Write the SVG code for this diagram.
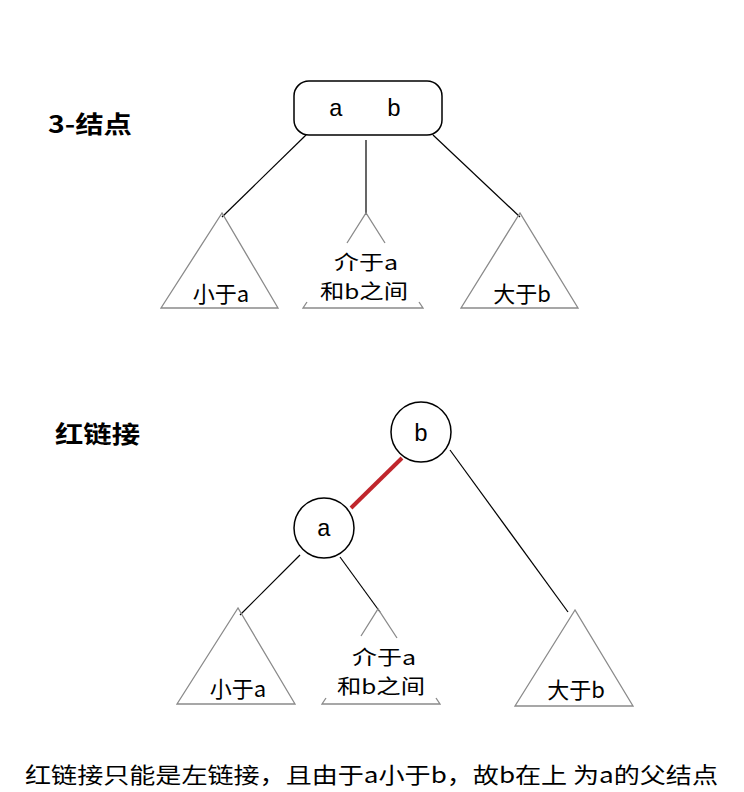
<svg xmlns="http://www.w3.org/2000/svg" width="744" height="792" viewBox="0 0 744 792">
<style>
.edge{stroke:#000;stroke-width:1.2;fill:none}
.red{stroke:#c0262c;stroke-width:4;fill:none}
.tri{stroke:#8a8a8a;stroke-width:1.3;fill:none}
.node{stroke:#000;stroke-width:1.5;fill:#fff}
.t{font-family:"Liberation Mono","Noto Sans CJK SC",monospace;font-size:24px;fill:#000}
.c{font-family:"Noto Sans CJK SC",sans-serif;font-size:22px;fill:#000}
.m{font-family:"Noto Sans CJK SC",sans-serif;font-size:20px;fill:#000}
.h{font-family:"Noto Sans CJK SC",sans-serif;font-size:24px;font-weight:bold;fill:#000}
</style>
<rect width="744" height="792" fill="#fff"/>
<text class="h" x="48" y="133" textLength="84" lengthAdjust="spacingAndGlyphs">3-结点</text>
<text class="h" x="55" y="443" textLength="85" lengthAdjust="spacingAndGlyphs">红链接</text>
<g id="connectors">
<line class="edge" x1="306" y1="135" x2="222" y2="217"/>
<line class="edge" x1="366" y1="140" x2="366" y2="215"/>
<line class="edge" x1="433" y1="135" x2="520" y2="217"/>
<line class="red" x1="402" y1="458" x2="351" y2="508"/>
<line class="edge" x1="300" y1="555" x2="240" y2="615"/>
<line class="edge" x1="340" y1="557" x2="380" y2="612"/>
<line class="edge" x1="450" y1="450" x2="568" y2="612"/>
</g>
<g id="node-ab">
<rect class="node" x="294" y="81" width="148" height="54" rx="15"/>
<text class="t" x="336" y="116" text-anchor="middle">a</text>
<text class="t" x="394" y="116" text-anchor="middle">b</text>
</g>
<g id="sub-lt-a-1">
<path class="tri" d="M222 213 L161 308 L278 308 Z"/>
<text class="c" x="221" y="302" text-anchor="middle">小于a</text>
</g>
<g id="sub-between-1">
<path class="tri" d="M347 243 L366 213 L385 243 M307 302 L303 308 L423 308 L419 302"/>
<text class="m" x="366" y="270" text-anchor="middle" textLength="64" lengthAdjust="spacingAndGlyphs">介于a</text>
<text class="m" x="364" y="299" text-anchor="middle" textLength="88" lengthAdjust="spacingAndGlyphs">和b之间</text>
</g>
<g id="sub-gt-b-1">
<path class="tri" d="M520 213 L461 308 L578 308 Z"/>
<text class="c" x="522" y="302" text-anchor="middle">大于b</text>
</g>
<g id="node-b">
<circle class="node" cx="421" cy="432" r="30"/>
<text class="t" x="421" y="441" text-anchor="middle">b</text>
</g>
<g id="node-a">
<circle class="node" cx="324" cy="528" r="30"/>
<text class="t" x="324" y="536" text-anchor="middle">a</text>
</g>
<g id="sub-lt-a-2">
<path class="tri" d="M238 608 L177 704 L295 704 Z"/>
<text class="c" x="238" y="697" text-anchor="middle">小于a</text>
</g>
<g id="sub-between-2">
<path class="tri" d="M361 636 L378 609 L397 638 M326 698 L322 704 L440 704 L436 698"/>
<text class="m" x="384" y="665" text-anchor="middle" textLength="64" lengthAdjust="spacingAndGlyphs">介于a</text>
<text class="m" x="381" y="694" text-anchor="middle" textLength="88" lengthAdjust="spacingAndGlyphs">和b之间</text>
</g>
<g id="sub-gt-b-2">
<path class="tri" d="M575 610 L515 706 L633 706 Z"/>
<text class="c" x="576" y="698" text-anchor="middle">大于b</text>
</g>
<text class="c" x="25" y="783" font-size="24" textLength="693" lengthAdjust="spacingAndGlyphs">红链接只能是左链接，且由于a小于b，故b在上 为a的父结点</text>
</svg>
